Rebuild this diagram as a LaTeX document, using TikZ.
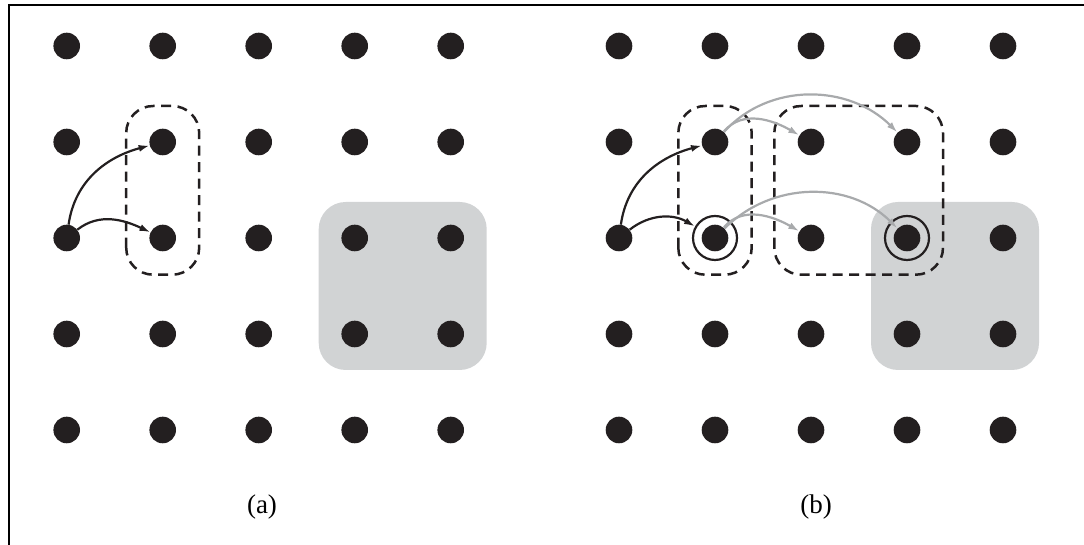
\documentclass[tikz,border=0pt]{standalone}
\usepackage{fontspec}
\setmainfont{Liberation Serif}
\usetikzlibrary{arrows.meta}
\definecolor{dotblack}{RGB}{35,31,32}
\definecolor{boxgray}{RGB}{209,211,212}
\definecolor{arrgray}{RGB}{168,170,172}
\tikzset{
  dot/.style={circle,fill=dotblack,inner sep=0pt,minimum size=26.6pt},
  ring/.style={circle,draw=dotblack,line width=2.2pt,inner sep=0pt,minimum size=44pt},
  grpbox/.style={draw=dotblack,line width=2.5pt,dash pattern=on 10pt off 6.5pt,rounded corners=27pt},
  shade/.style={fill=boxgray,rounded corners=27pt},
  blackarr/.style={draw=dotblack,line width=2.2pt,-{Latex[length=11pt,width=7pt]}},
  grayarr/.style={draw=arrgray,line width=2.2pt,-{Latex[length=11pt,width=7pt]}},
  frameline/.style={draw=black,line width=2.2pt},
  lbl/.style={font=\fontsize{27}{32}\selectfont,inner sep=0pt}
}
\begin{document}
\begin{tikzpicture}[x=1pt,y=1pt]
\useasboundingbox (0,0) rectangle (1084,545);
% frame (top and left only)
\coordinate (ftl) at (9,540);
\coordinate (ftr) at (1084,540);
\coordinate (fbl) at (9,0);
\draw[frameline] (ftr) -- (ftl) -- (fbl);
% shaded squares
\fill[shade] (318.7,175) rectangle (486.7,343);
\fill[shade] (871,175) rectangle (1039,343);
% dashed groups
\draw[grpbox] (126.2,270.3) rectangle (199.2,439);
\draw[grpbox] (678.3,270.3) rectangle (751.7,439);
\draw[grpbox] (774.3,270.3) rectangle (943,439);
% dots
\foreach \c in {1,...,5}{
  \foreach \r/\yy in {1/499,2/403,3/307,4/211,5/115}{
    \node[dot] (a-\c-\r) at ({66.7+96*(\c-1)},\yy) {};
    \node[dot] (b-\c-\r) at ({619+96*(\c-1)},\yy) {};
  }
}
% rings
\node[ring] (ringA) at (b-2-3) {};
\node[ring] (ringB) at (b-4-3) {};
% arrows (a)
\draw[blackarr] (a-1-3) to[out=82,in=195] (a-2-2);
\draw[blackarr] (a-1-3) to[out=38,in=155] (a-2-3);
% arrows (b)
\draw[blackarr] (b-1-3) to[out=82,in=195] (b-2-2);
\draw[blackarr] (b-1-3) to[out=38,in=150] (ringA);
\draw[grayarr] (b-2-2) to[out=50,in=150] (b-3-2);
\draw[grayarr] (b-2-2) to[out=48,in=135] (b-4-2);
\draw[grayarr] (b-2-3) to[out=50,in=150] (b-3-3);
\draw[grayarr] (b-2-3) to[out=45,in=135] (b-4-3);
% labels
\node[lbl] (la) at (262,38) {(a)};
\node[lbl] (lb) at (816,38) {(b)};
\end{tikzpicture}
\end{document}
